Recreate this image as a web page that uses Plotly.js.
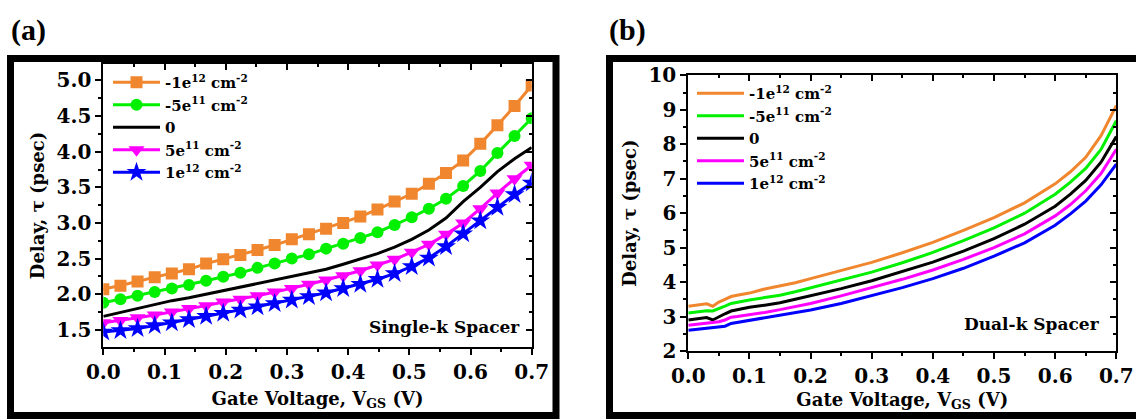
<!DOCTYPE html>
<html>
<head>
<meta charset="utf-8">
<script src="https://cdn.plot.ly/plotly-3.0.1.min.js"></script>
<style>
html,body{margin:0;padding:0;background:#fff;}
#chart{width:1136px;height:419px;}
</style>
</head>
<body>
<div id="chart"></div>
<script>
// ---------- DATA ----------
const seriesNames = ['-1e<sup>12</sup> cm<sup>-2</sup>', '-5e<sup>11</sup> cm<sup>-2</sup>', '0', '5e<sup>11</sup> cm<sup>-2</sup>', '1e<sup>12</sup> cm<sup>-2</sup>'];

// Panel (a): Single-k spacer
const vgsA = [0, 0.028, 0.056, 0.084, 0.112, 0.14, 0.168, 0.196, 0.224, 0.252, 0.28, 0.308, 0.336, 0.364, 0.392, 0.42, 0.448, 0.476, 0.504, 0.532, 0.56, 0.588, 0.616, 0.644, 0.672, 0.7];
const aNeg1e12 = [2.07, 2.12, 2.18, 2.24, 2.29, 2.35, 2.43, 2.49, 2.55, 2.62, 2.69, 2.77, 2.84, 2.92, 3.00, 3.09, 3.19, 3.30, 3.41, 3.55, 3.70, 3.875, 4.11, 4.37, 4.64, 4.93];
const aNeg5e11 = [1.88, 1.93, 1.98, 2.03, 2.08, 2.13, 2.19, 2.245, 2.30, 2.37, 2.43, 2.50, 2.56, 2.64, 2.71, 2.79, 2.87, 2.97, 3.08, 3.20, 3.34, 3.52, 3.73, 3.98, 4.22, 4.47];
const aZero    = [1.69, 1.745, 1.80, 1.86, 1.91, 1.95, 2.00, 2.04, 2.09, 2.14, 2.19, 2.24, 2.29, 2.35, 2.42, 2.49, 2.57, 2.66, 2.77, 2.90, 3.07, 3.30, 3.50, 3.72, 3.90, 4.06];
const aPos5e11 = [1.60, 1.63, 1.67, 1.71, 1.75, 1.80, 1.84, 1.89, 1.93, 1.98, 2.03, 2.08, 2.14, 2.20, 2.26, 2.33, 2.41, 2.49, 2.59, 2.70, 2.84, 3.00, 3.20, 3.42, 3.62, 3.81];
const aPos1e12 = [1.47, 1.49, 1.52, 1.56, 1.60, 1.645, 1.69, 1.735, 1.78, 1.825, 1.87, 1.92, 1.97, 2.02, 2.08, 2.14, 2.21, 2.29, 2.39, 2.51, 2.67, 2.85, 3.03, 3.22, 3.40, 3.56];

// Panel (b): Dual-k spacer
const vgsB = [0, 0.01, 0.02, 0.03, 0.04, 0.05, 0.06, 0.07, 0.08, 0.1, 0.125, 0.15, 0.175, 0.2, 0.25, 0.3, 0.35, 0.4, 0.45, 0.5, 0.55, 0.6, 0.625, 0.65, 0.675, 0.7];
const bNeg1e12 = [3.30, 3.32, 3.35, 3.37, 3.30, 3.42, 3.50, 3.58, 3.62, 3.68, 3.80, 3.88, 3.98, 4.10, 4.33, 4.57, 4.85, 5.15, 5.50, 5.87, 6.30, 6.85, 7.20, 7.62, 8.25, 9.12];
const bNeg5e11 = [3.10, 3.12, 3.15, 3.17, 3.16, 3.22, 3.30, 3.38, 3.42, 3.48, 3.55, 3.62, 3.72, 3.83, 4.05, 4.29, 4.56, 4.86, 5.20, 5.57, 6.00, 6.55, 6.90, 7.30, 7.85, 8.68];
const bZero    = [2.90, 2.92, 2.95, 2.97, 2.90, 3.00, 3.08, 3.16, 3.20, 3.27, 3.33, 3.40, 3.50, 3.60, 3.81, 4.04, 4.30, 4.58, 4.90, 5.26, 5.68, 6.20, 6.55, 6.95, 7.48, 8.22];
const bPos5e11 = [2.75, 2.77, 2.79, 2.80, 2.82, 2.85, 2.90, 2.98, 3.00, 3.05, 3.12, 3.20, 3.29, 3.38, 3.60, 3.84, 4.08, 4.35, 4.66, 5.00, 5.40, 5.92, 6.25, 6.65, 7.15, 7.85];
const bPos1e12 = [2.60, 2.62, 2.64, 2.66, 2.68, 2.70, 2.72, 2.80, 2.83, 2.88, 2.95, 3.02, 3.10, 3.19, 3.38, 3.60, 3.84, 4.10, 4.40, 4.75, 5.14, 5.65, 5.98, 6.35, 6.82, 7.42];

// ---------- STYLE ----------
const colors = ['#F0862E', '#00F000', '#000000', '#FF00FF', '#0000FF'];
const symbols = ['square', 'circle', null, 'triangle-down', 'star'];
const msizes = [12, 12, 0, 14, 15];
const FONT = 'DejaVu Serif';
const W = 1136, H = 419;
const px = v => v / W;
const py = v => 1 - v / H;

const seriesA = [aNeg1e12, aNeg5e11, aZero, aPos5e11, aPos1e12];
const seriesB = [bNeg1e12, bNeg5e11, bZero, bPos5e11, bPos1e12];

const traces = [];
seriesA.forEach((ys, i) => {
  const t = {
    x: vgsA, y: ys, name: seriesNames[i], xaxis: 'x', yaxis: 'y', legend: 'legend',
    type: 'scatter', mode: symbols[i] ? 'lines+markers' : 'lines',
    line: {color: colors[i], width: 3}
  };
  if (symbols[i]) t.marker = {symbol: symbols[i], size: msizes[i], color: colors[i]};
  traces.push(t);
});
seriesB.forEach((ys, i) => {
  traces.push({
    x: vgsB, y: ys, name: seriesNames[i], xaxis: 'x2', yaxis: 'y2', legend: 'legend2',
    type: 'scatter', mode: 'lines',
    line: {color: colors[i], width: 3}
  });
});
// empty carriers so that the mirrored (top / right) axes get drawn
[['x3', 'y'], ['x', 'y3'], ['x4', 'y2'], ['x2', 'y4']].forEach(([xa, ya]) => {
  traces.push({x: [], y: [], xaxis: xa, yaxis: ya, type: 'scatter', mode: 'lines',
               showlegend: false, hoverinfo: 'skip'});
});

const tickFont = {family: FONT, size: 20, color: '#000', weight: 'bold'};
const titleFont = {family: FONT, size: 18, color: '#000', weight: 'bold'};

function baseX(domain, anchor, standoff) {
  return {
    domain: domain, anchor: anchor, range: [0, 0.7], tick0: 0, dtick: 0.1, tickformat: '.1f',
    showline: true, linecolor: '#000', linewidth: 2, mirror: false,
    ticks: 'outside', ticklen: 6, tickwidth: 2, tickcolor: '#000',
    minor: {ticks: 'outside', ticklen: 3, tickwidth: 2, dtick: 0.05, tickcolor: '#000'},
    showgrid: false, zeroline: false, tickfont: tickFont,
    title: {text: 'Gate Voltage, V<sub>GS</sub> (V)', font: titleFont, standoff: standoff}
  };
}
function baseY(domain, anchor, range, dtick, fmt) {
  return {
    domain: domain, anchor: anchor, range: range, tick0: 0, dtick: dtick, tickformat: fmt,
    showline: true, linecolor: '#000', linewidth: 2,
    ticks: 'outside', ticklen: 6, tickwidth: 2, tickcolor: '#000',
    minor: {ticks: 'outside', ticklen: 3, tickwidth: 2, dtick: dtick / 2, tickcolor: '#000'},
    showgrid: false, zeroline: false, tickfont: tickFont,
    title: {text: 'Delay, τ (psec)', font: titleFont, standoff: 7}
  };
}
function mirrorX(over, anchor, range, dtick) {
  return {
    overlaying: over, anchor: anchor, side: 'top', range: range, tick0: 0, dtick: dtick,
    showline: true, linecolor: '#000', linewidth: 2, showticklabels: false,
    ticks: 'inside', ticklen: 6, tickwidth: 2, tickcolor: '#000',
    minor: {ticks: 'inside', ticklen: 3, tickwidth: 2, dtick: dtick / 2, tickcolor: '#000'},
    showgrid: false, zeroline: false
  };
}
function mirrorY(over, anchor, range, dtick) {
  return {
    overlaying: over, anchor: anchor, side: 'right', range: range, tick0: 0, dtick: dtick,
    showline: true, linecolor: '#000', linewidth: 2, showticklabels: false,
    ticks: 'inside', ticklen: 6, tickwidth: 2, tickcolor: '#000',
    minor: {ticks: 'inside', ticklen: 3, tickwidth: 2, dtick: dtick / 2, tickcolor: '#000'},
    showgrid: false, zeroline: false
  };
}

const domAx = [px(103.3), px(531.7)], domAy = [py(347), py(64)];
const domBx = [px(688.3), px(1116.3)], domBy = [py(351), py(75.3)];
const rangeA = [1.26, 5.23], rangeB = [2, 10];

const legendFont = {family: FONT, size: 15, color: '#000', weight: 'bold'};

const layout = {
  width: W, height: H,
  margin: {l: 0, r: 0, t: 0, b: 0},
  paper_bgcolor: '#fff', plot_bgcolor: 'rgba(0,0,0,0)',
  showlegend: true,
  xaxis: baseX(domAx, 'y', 9),
  yaxis: baseY(domAy, 'x', rangeA, 0.5, '.1f'),
  xaxis2: baseX(domBx, 'y2', 6),
  yaxis2: baseY(domBy, 'x2', rangeB, 1, 'd'),
  xaxis3: mirrorX('x', 'y', [0, 0.7], 0.1),
  yaxis3: mirrorY('y', 'x', rangeA, 0.5),
  xaxis4: mirrorX('x2', 'y2', [0, 0.7], 0.1),
  yaxis4: mirrorY('y2', 'x2', rangeB, 1),
  legend: {
    x: px(108), y: py(66), xanchor: 'left', yanchor: 'top',
    bgcolor: 'rgba(0,0,0,0)', borderwidth: 0, font: legendFont,
    tracegroupgap: 0, itemwidth: 47, itemclick: false, itemdoubleclick: false
  },
  legend2: {
    x: px(692), y: py(77), xanchor: 'left', yanchor: 'top',
    bgcolor: 'rgba(0,0,0,0)', borderwidth: 0, font: legendFont,
    tracegroupgap: 0, itemwidth: 47, itemclick: false, itemdoubleclick: false
  },
  shapes: [
    {type: 'rect', xref: 'paper', yref: 'paper', x0: px(10.5), x1: px(556), y0: py(415.5), y1: py(58.5),
     line: {color: '#000', width: 7}, fillcolor: 'rgba(0,0,0,0)', layer: 'below'},
    {type: 'rect', xref: 'paper', yref: 'paper', x0: px(609.5), x1: px(1145), y0: py(415.5), y1: py(58.5),
     line: {color: '#000', width: 7}, fillcolor: 'rgba(0,0,0,0)', layer: 'below'}
  ],
  annotations: [
    {text: '(a)', xref: 'paper', yref: 'paper', x: px(9), y: py(30), xanchor: 'left', yanchor: 'middle',
     showarrow: false, font: {family: 'Liberation Serif', size: 30, color: '#000', weight: 'bold'}},
    {text: '(b)', xref: 'paper', yref: 'paper', x: px(607), y: py(30), xanchor: 'left', yanchor: 'middle',
     showarrow: false, font: {family: 'Liberation Serif', size: 30, color: '#000', weight: 'bold'}},
    {text: 'Single-k Spacer', xref: 'paper', yref: 'paper', x: px(522), y: py(327), xanchor: 'right', yanchor: 'middle',
     showarrow: false, font: {family: FONT, size: 17, color: '#000', weight: 'bold'}},
    {text: 'Dual-k Spacer', xref: 'paper', yref: 'paper', x: px(1102), y: py(324), xanchor: 'right', yanchor: 'middle',
     showarrow: false, font: {family: FONT, size: 17, color: '#000', weight: 'bold'}}
  ]
};

Plotly.newPlot('chart', traces, layout, {staticPlot: true, displayModeBar: false});
</script>
</body>
</html>
